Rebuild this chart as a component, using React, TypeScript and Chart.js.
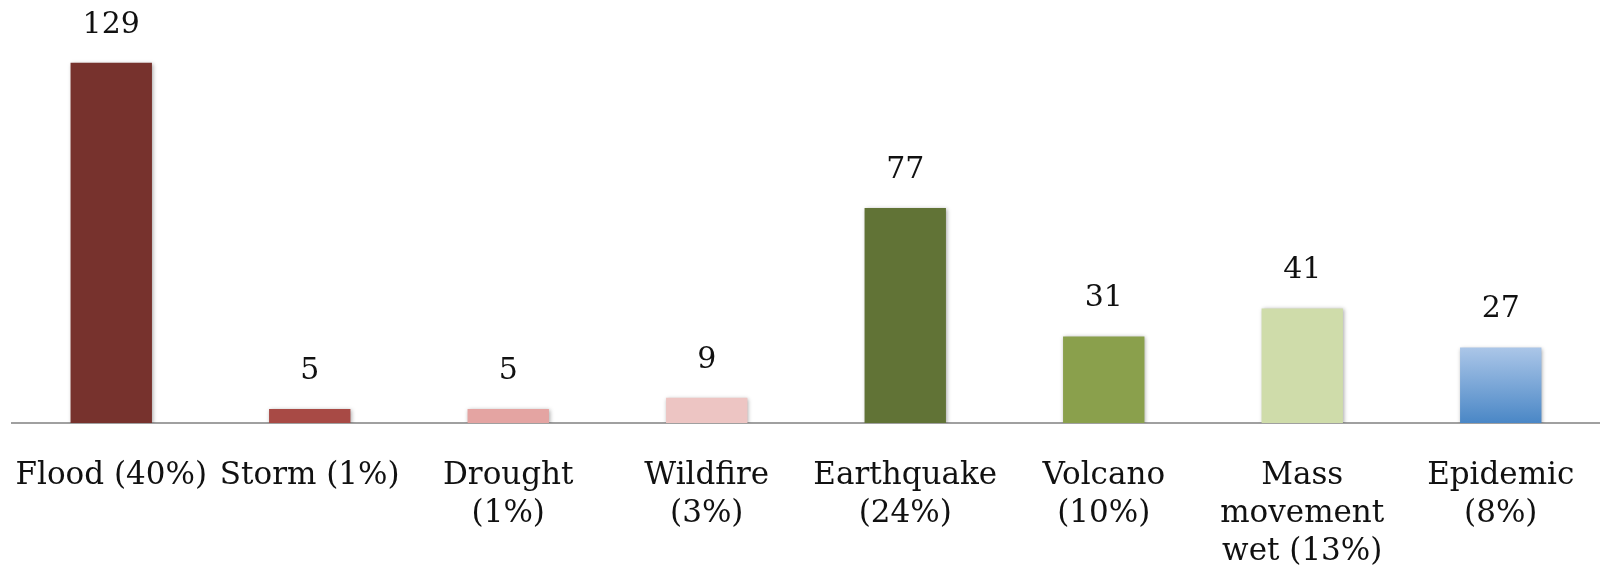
import React, { useEffect, useRef } from "react";
import { Chart, registerables } from "chart.js";

Chart.register(...registerables);

const categories: (string | string[])[] = [
  "Flood (40%)",
  "Storm (1%)",
  ["Drought", "(1%)"],
  ["Wildfire", "(3%)"],
  ["Earthquake", "(24%)"],
  ["Volcano", "(10%)"],
  ["Mass", "movement", "wet (13%)"],
  ["Epidemic", "(8%)"],
];

const values: number[] = [129, 5, 5, 9, 77, 31, 41, 27];

const barColors: string[] = [
  "#77322d",
  "#a84a45",
  "#e4a4a2",
  "#edc5c3",
  "#617336",
  "#8aa04c",
  "#cfdcaa",
  "gradient",
];

const FONT = "'DejaVu Serif', 'Liberation Serif', serif";

const shadowPlugin = {
  id: "barShadow",
  beforeDatasetsDraw(chart: any) {
    const ctx = chart.ctx;
    ctx.save();
    ctx.shadowColor = "rgba(0,0,0,0.35)";
    ctx.shadowBlur = 4;
    ctx.shadowOffsetX = 1;
    ctx.shadowOffsetY = 1;
  },
  afterDatasetsDraw(chart: any) {
    chart.ctx.restore();
  },
};

const valueLabelPlugin = {
  id: "valueLabels",
  afterDraw(chart: any) {
    const ctx = chart.ctx;
    const meta = chart.getDatasetMeta(0);
    ctx.save();
    ctx.font = `30px ${FONT}`;
    ctx.fillStyle = "#111";
    ctx.textAlign = "center";
    ctx.textBaseline = "middle";
    meta.data.forEach((bar: any, i: number) => {
      ctx.fillText(String(values[i]), bar.x, bar.y - 38);
    });
    ctx.restore();
  },
};

export default function App() {
  const canvasRef = useRef<HTMLCanvasElement | null>(null);

  useEffect(() => {
    if (!canvasRef.current) return;
    const chart = new Chart(canvasRef.current, {
      type: "bar",
      data: {
        labels: categories,
        datasets: [
          {
            data: values,
            backgroundColor: (c: any) => {
              const i = c.dataIndex;
              const col = barColors[i];
              if (col !== "gradient") return col;
              const ch = c.chart;
              const area = ch.chartArea;
              if (!area) return "#6d9fd6";
              const yTop = ch.scales.y.getPixelForValue(values[i]);
              const g = ch.ctx.createLinearGradient(0, yTop, 0, area.bottom);
              g.addColorStop(0, "#abc6e8");
              g.addColorStop(1, "#4a87c6");
              return g;
            },
            borderWidth: 0,
            categoryPercentage: 1,
            barPercentage: 0.41,
          },
        ],
      },
      options: {
        animation: false,
        responsive: true,
        maintainAspectRatio: false,
        layout: { padding: { left: 12, right: 0, top: 32, bottom: 0 } },
        plugins: {
          legend: { display: false },
          tooltip: { enabled: false },
        },
        scales: {
          x: {
            grid: { display: false },
            border: { display: true, color: "#a0a0a0", width: 2 },
            ticks: {
              color: "#111",
              font: { family: FONT, size: 31, lineHeight: 1.226 },
              padding: 26,
              autoSkip: false,
              maxRotation: 0,
              minRotation: 0,
            },
            afterFit: (scale: any) => {
              scale.height = 152;
              scale.paddingLeft = 0;
              scale.paddingRight = 0;
            },
          },
          y: {
            display: false,
            min: 0,
            max: 140,
          },
        },
      },
      plugins: [shadowPlugin, valueLabelPlugin],
    });
    return () => chart.destroy();
  }, []);

  return (
    <div style={{ position: "fixed", left: 0, top: 0, width: "1600px", height: "575px" }}>
      <canvas ref={canvasRef} />
    </div>
  );
}
